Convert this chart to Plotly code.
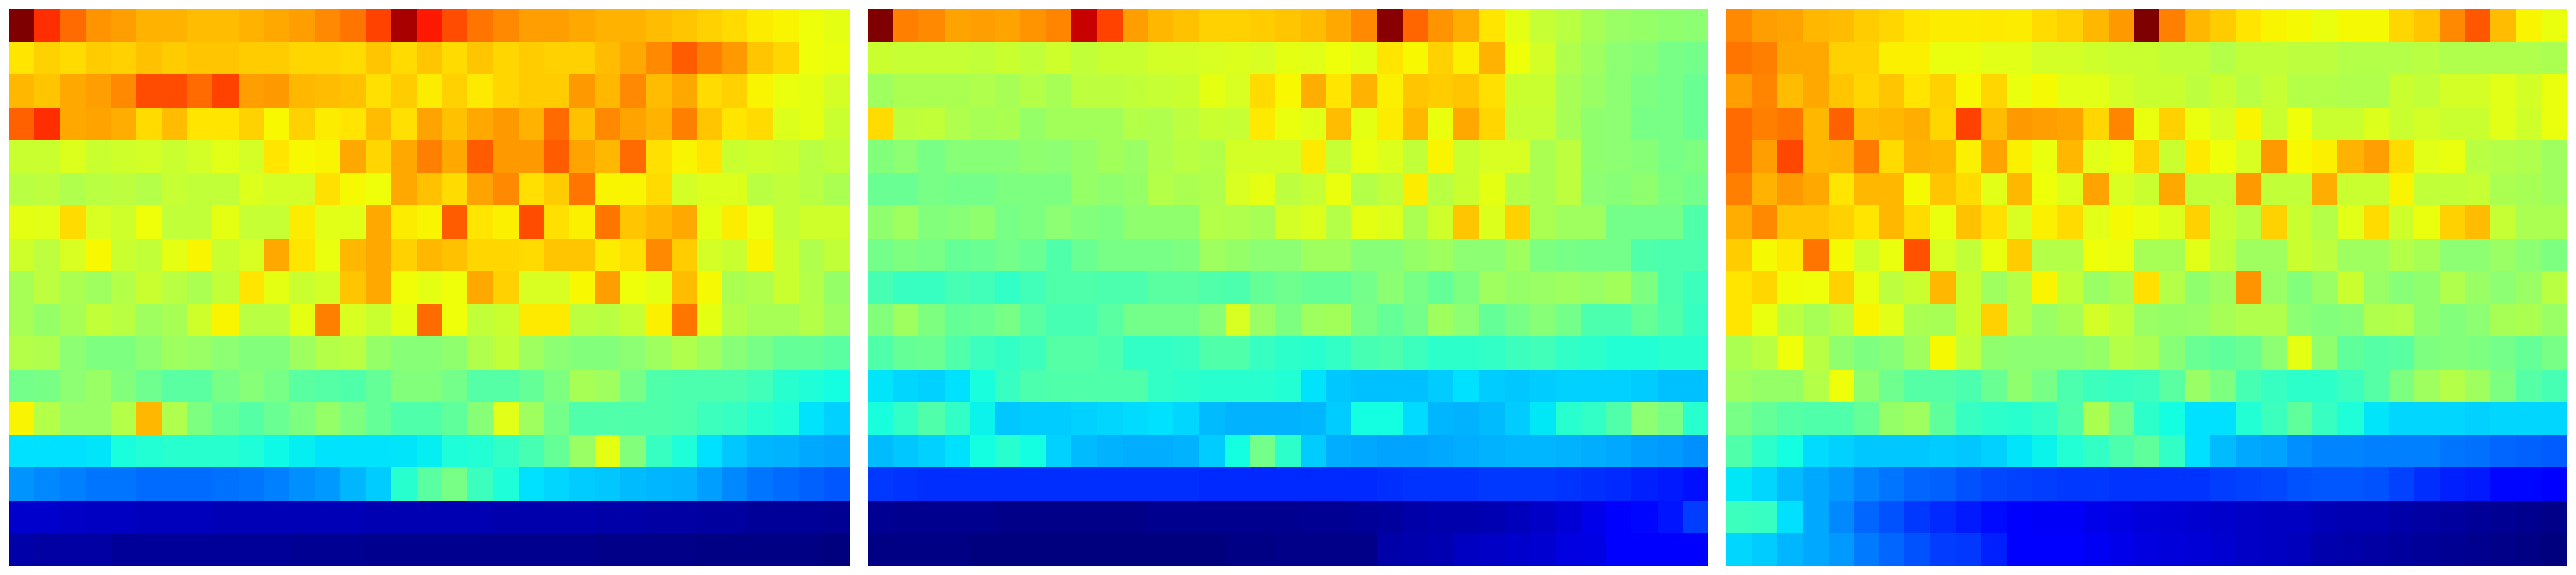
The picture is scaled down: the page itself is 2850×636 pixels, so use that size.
import plotly.graph_objects as go

panel_a = [
[100,83,77,73,72,70,70,69,69,70,71,72,74,76,81,96,85,80,76,74,72,72,71,70,70,69,68,67,66,64,63,61,60],
[65,67,66,67.5,67,68.5,67.5,68,68,67.5,67.5,66.5,66.5,66,68,66,68,66,68,66.5,67.5,67,67,69,71,74,78.5,75,72.5,68,66.5,61,60.5],
[69.5,68,71,72,74,80,80,77,81,72,72.5,69.5,69,68.5,65.5,67.5,64,67,64.5,66.5,67.5,67.5,72.5,69.5,74,69,71,66,67,63,60.5,60,58],
[78,83,71,71.5,70.5,66,69,65,65,67,62.5,67,64,65,69,65.5,71.5,68.5,71,72.5,70,77,68.5,74,71.5,70,75,68,65,66,59,60,57],
[57,57,59,57,57.5,58,57,58,59.5,58,65,62.5,63,71,66.5,71,75,71,78.5,72.5,72.5,78.5,71.5,69.5,77,65.5,63,65,57,57.5,57,55,56],
[55,55.5,54,55,55.5,54.5,56.5,56,56,59,58,58,65.5,62,61,71,68.5,66,71.5,74,65.5,67.5,76,63,63,66,58,59,59,55,56,55,53.5],
[60,59.5,66,58.5,57.5,61,56,56,60,56.5,56.5,64,59.5,59.5,71,64,63,78.5,65,63.5,80,65.5,63.5,76,68,69.5,71,60,64,60.5,56,57.5,57.5],
[57.5,55.5,58.5,62.5,57,56,60,63,57,58.5,71,65,60.5,69.5,71,67,69.5,68.5,66.5,66.5,66,68,68,64,65.5,74,67.5,58,57,63,57,54,56],
[53,55.5,53.5,52,54.5,57,55,53.5,56,65,60,57,58,68,71,61.5,60,61,71,67,58.5,58.5,62.5,72,61,60,69,62,53.5,54,57,54.5,51],
[53,51,53,56,55,52,53,57.5,63,55,55,60,75,58.5,57,60,77,61,56,57,64.5,64.5,55.5,55,56.5,63.5,76,60,54.5,53,53,54.5,52],
[54.5,54,50,48.5,48.5,50,52,51.5,50,49,49,52,54.5,55,51,49.5,49.5,50.5,54,56,52,50,49,49,50,52,54,52,49.5,48,46,46,45],
[47.5,48,50,51.5,49,47,45,45,48,49.5,48,45,44.5,44,46,49,49,47.5,44.5,44.5,46,48.5,53,52,48,44,43.5,43.5,43.5,42.5,40,39,38],
[63,54.5,51.5,51.5,54.5,69.5,54,48.5,46,44.5,46.5,48.5,51,48.5,46,44,44,45.5,49.5,59.5,52,47.5,44,44,44,44,43.5,42,41.5,40,39,35,33],
[34.5,34.5,34.5,35.5,38.5,39.5,40,40,40,39,37.5,36.5,35,35,35,35.5,36.5,39,39.5,41,43,46,51.5,60,49,41.5,39,34.5,32,30.5,30,29,28.5],
[27,26,25,24,24,23,23,23,23.5,24,25,26.5,27.5,30.5,32.5,40,45,48,42,39,34.5,33.5,32.5,32,31,30.5,30,28,26,24,23,22,21],
[7.5,7.5,7,6.5,6.5,6,6,6,5.5,5.5,5.5,5.5,5.5,5.5,5,5,5,5,5,4.5,4.5,4.5,4.5,4,4,3.5,3.5,3,3,2.5,2.5,2.5,2],
[4,3.5,3.5,3.5,2.5,2.5,2.5,2.5,2.5,2.5,2.5,2,2,2,1.5,1.5,1.5,1.5,1.5,1.5,1.5,1.5,1.5,1,1,1,1,0.5,0.5,0.5,0.5,0.5,0],
]

panel_b = [
[100,75,74,71.5,72,71.5,73,74.5,93,81,72,69.5,68.5,67,67,67.5,68,69,71,74,99,77.5,73,70.5,65,60,56.5,55,53,51.5,51,50.5,50],
[57,56.5,56.5,56.5,56,57,56,57.5,56,57,57,58,58,58.5,59,58.5,60,59.5,61,60,65,62.5,67,63.5,70,61,58,54,52,50,49.5,48,47.5],
[52,53.5,53.5,53.5,54,53,54.5,53,55.5,55.5,56,56.5,57,60,58.5,66,62.5,70.5,65,70,63.5,68,67.5,68,65.5,57,57,53,51.5,50,48.5,48,46.5],
[66,55.5,56,54,53,53.5,51,52.5,52.5,52.5,54.5,54,55.5,57,56.5,64.5,60.5,59.5,69,60,64,69.5,60.5,71,66.5,56.5,56.5,53,50.5,50,48,48,46.5],
[49,50,48,49.5,49.5,49.5,50.5,50,51,52.5,51.5,54,55,54.5,58,58,58,64.5,56.5,60.5,59,56,63,57,58.5,58.5,53.5,55.5,50.5,50,49.5,48,48.5],
[46.5,46.5,48,47.5,47.5,48.5,48.5,48.5,51,50.5,51,54.5,53.5,54,58.5,60,55.5,56.5,60.5,54.5,56,64,55,57,60,54.5,53.5,55.5,50,49.5,50.5,48.5,47.5],
[50.5,52,49,49.5,50.5,48,48.5,50,49,48.5,50.5,50.5,50.5,54.5,54,53,58,59,54.5,60,59,53.5,57.5,68,59,67,53.5,52,52,47.5,47.5,47.5,44],
[47.5,48.5,48,46,46.5,47.5,46.5,44,46.5,48,48,48,48.5,52,51,50,50,52,52,49.5,49.5,51,52,50,50,52,48.5,48,47.5,47.5,44,43.5,43.5],
[43,41.5,41.5,43,42.5,41,42.5,44,44,43.5,43.5,45,45,44,43.5,46,47,46,46,47.5,50,48,46,48.5,52,51,51.5,52,51.5,52.5,48.5,43.5,42],
[49,52,48.5,46,46.5,48,45,43,43,45,47.5,47.5,47.5,49.5,58.5,51.5,48.5,52,52.5,48,46,47.5,52,50,46,48,49.5,47.5,43.5,43.5,46,44,41.5],
[44,46,46.5,44,42,41,42,44.5,44.5,43.5,41,41,41.5,44,44,41.5,40.5,40,41,43,43.5,42,40.5,40.5,41,42,42.5,41,40.5,39.5,39.5,40,40],
[35.5,33.5,33,34.5,38.5,41.5,43.5,44,44,44,44,41,40.5,40,40,40,39.5,35,32,31.5,31.5,31.5,32.5,34.5,32.5,32,32.5,33,33,33,32.5,31.5,31.5],
[38.5,41,44,41,37,32,32.5,32.5,33,33.5,34,34.5,33.5,31,30,30,30,30.5,32.5,38,38,34,30.5,30,31,32.5,36,40,41,44,50,48,40],
[31,32,33,34.5,38,40,38,33,31,30,29.5,29.5,30,32.5,38,47.5,40.5,32.5,29.5,29,28.5,28.5,29,29.5,30,30.5,30.5,30,29.5,29,28,27.5,26.5],
[18,17.5,17,17,17,17,17,17,17,17,17,17,17,16.5,16.5,16.5,16.5,16.5,16.5,16.5,17,17.5,17.5,17.5,18,18,18,17.5,17,16.5,15.5,15,14],
[2,1.5,1.5,1.5,1.5,1,1,1,1,1,1,1.5,1.5,1.5,1.5,1.5,1.5,2,2,2.5,3,4,4.5,4.5,5,6,7,8.5,10.5,12.5,13,14.5,18.5],
[0.5,0.5,0.5,0.5,0,0,0,0,0,0,0,0,0,0,0.5,0.5,1,1,1,1,4,4.5,5,6.5,7,7.5,8,9.5,10,12.5,12.5,12.5,12.5],
]

panel_c = [
[74,72,71.5,69.5,69,67.5,66.5,65,64,64,64.5,64,66,67,69.5,72.5,100,75,69.5,67.5,65,63,62,60.5,62,62,66.5,68,74,79,69,63,60.5],
[76,75,71,71,67,67,63.5,63.5,60.5,60.5,59.5,59.5,58,58,57.5,57,57,56,56,54.5,56,56,55.5,55.5,54.5,54.5,54.5,55,54,54,54,54,53.5],
[72,74.5,69,71,68,66.5,68,65,67,62.5,66.5,60.5,62,59.5,59.5,58,57,57,55.5,57,55,56.5,54.5,54.5,54,54,57,56,58,58,59.5,58,60.5],
[77,75,76,69.5,78,69,69.5,70.5,66.5,81,69,72.5,72,71.5,66.5,74.5,60.5,67,60.5,58.5,63,57,61,57,57,59,57,58,57,57,59.5,57.5,60.5],
[77,72,80.5,69.5,70,75.5,66,70,69.5,63.5,71.5,63.5,60.5,69.5,59.5,60.5,67,57,64.5,61,58.5,72.5,62.5,63.5,70,72,66,59.5,60.5,55,54.5,54,52],
[75,70,72.5,71,65,69.5,69.5,62,68,66,59.5,69.5,61,59,71.5,58.5,57,71,56,56,72.5,56,56,70.5,57,57,63,56,56,56.5,53.5,53,52],
[70.5,74,68,68,67,65,69.5,66,60.5,68.5,65.5,58.5,63.5,66,59.5,62,60.5,59,67,57,55,67,57,54.5,59.5,66,57.5,60.5,67,69,56.5,53.5,53.5],
[67.5,62,64.5,76,62,57.5,60.5,79.5,58.5,56,60.5,67.5,54.5,54.5,61,60.5,53,53,59.5,56,52,52,57,55.5,52,52,54.5,53,50,50,51.5,50,48.5],
[65,66.5,61.5,61,67,60.5,55.5,57,69.5,57,52,54.5,63,56,51.5,53,65.5,54.5,50.5,52,73,51.5,49,51.5,57,51.5,49.5,50.5,54,51.5,50,51.5,55],
[65,60.5,55,53,55,63,59.5,53.5,53,57,67,54.5,51.5,53,58,56,51.5,51,51.5,53,54,54,50,49,49.5,54,54.5,50.5,49,50,53,53.5,51.5],
[53.5,55,61,55,50.5,48.5,49.5,52,62,56,50.5,50,50,50,51,54.5,53.5,49.5,46.5,45.5,46.5,50,60,50.5,45.5,44.5,45,48.5,49,48.5,47.5,46,48],
[52,51,51,54.5,61,50.5,47,44.5,44.5,43.5,46.5,50.5,48,43.5,42,41.5,42,45,51.5,48.5,43,41.5,40.5,40.5,42,44.5,48.5,52,54.5,52,48.5,44.5,43],
[48,46,44.5,44,44,46,51,52,45.5,41.5,40.5,40,41,44,53.5,47.5,40.5,38,34.5,34.5,39.5,42,45.5,41.5,39,35.5,33.5,33.5,33.5,33,33.5,33.5,33.5],
[44,40.5,38,34,33,32,32,32,32.5,32,33,35.5,37,39.5,41,43.5,45.5,41,34.5,31,29,28.5,26.5,25.5,25.5,25,25,25,24,23.5,22.5,22,21.5],
[36,33.5,31,29,27.5,25.5,24,22.5,22,20.5,19.5,19,18.5,18,18,17.5,17.5,17.5,17.5,18.5,19,19.5,20.5,21,21,20.5,19,17,15.5,15,13,13,12.5],
[42,41.5,34.5,29,26,22.5,20.5,18,16.5,15,13.5,12.5,12,12,10.5,10,9,8.5,8,7.5,7,6.5,6.5,5.5,5,5,4,3.5,3,2.5,2,1.5,1],
[33.5,32.5,30.5,29,27.5,24.5,22.5,20.5,18.5,18,15.5,12.5,12.5,12.5,11.5,10.5,9.5,9,8.5,8,7,6.5,6,4.5,4,3.5,3,2.5,2,1.5,1,0.5,0],
]

jet = [
    [0.0, "#00007f"], [0.125, "#0000ff"], [0.345, "#00e0ff"], [0.36, "#00e8f6"],
    [0.38, "#14ffe2"], [0.50, "#8cff72"], [0.61, "#eeff09"], [0.625, "#f8f800"],
    [0.65, "#ffe500"], [0.875, "#ff0000"], [1.0, "#7f0000"],
]

W, H = 2850, 636
panels = [(panel_a, 10, 940), (panel_b, 960, 1890), (panel_c, 1910, 2840)]

fig = go.Figure()
layout = dict(
    width=W, height=H, margin=dict(l=0, r=0, t=0, b=0),
    paper_bgcolor="white", plot_bgcolor="white", showlegend=False,
)
for i, (z, x0, x1) in enumerate(panels, start=1):
    s = "" if i == 1 else str(i)
    fig.add_trace(go.Heatmap(
        z=z, colorscale=jet, zmin=0, zmax=100, showscale=False,
        xaxis="x" + s, yaxis="y" + s,
    ))
    layout["xaxis" + s] = dict(domain=[x0 / W, x1 / W], visible=False, anchor="y" + s, constrain="domain")
    layout["yaxis" + s] = dict(domain=[10 / H, 626 / H], visible=False, anchor="x" + s, autorange="reversed")
fig.update_layout(**layout)
fig.write_html(
    "out.html",
    config={"displayModeBar": False},
    post_script="document.body.style.margin='0';document.body.style.overflow='hidden';",
)
